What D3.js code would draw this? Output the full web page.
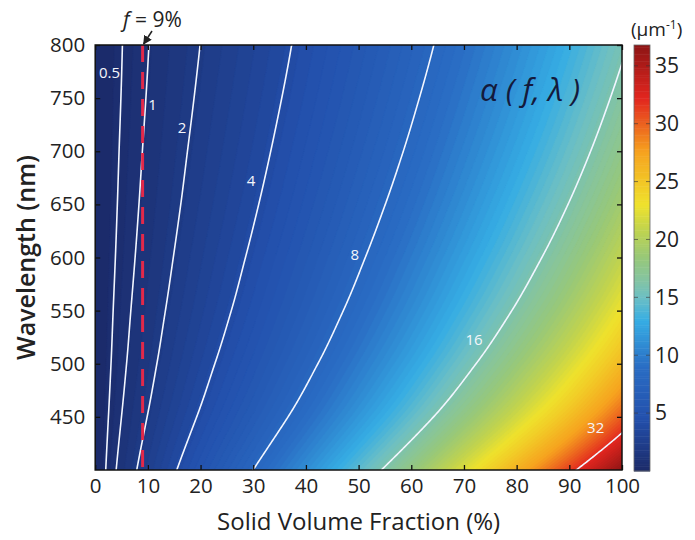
<!DOCTYPE html>
<html><head><meta charset="utf-8">
<script src="https://cdn.jsdelivr.net/npm/d3@7"></script>
<style>
body{margin:0;background:#fff;}
svg{display:block;font-family:"Open Sans",sans-serif;}
</style>
</head><body>
<svg id="chart" width="695" height="540"></svg>
<script>
// ---- data ----
const fractions = [0,10,20,30,40,50,60,70,80,90,100];          // solid volume fraction (%)
const wavelengths = [400,450,500,550,600,650,700,750,800];      // nm
const a400 = [0, 2.55, 5.22, 8.01, 11.08, 14.45, 18.12, 22.19, 26.56, 31.32, 36.8];
const a450 = [0, 2.03, 4.16, 6.39, 8.87, 11.61, 14.62, 17.98, 21.62, 25.62, 30.27];
const a500 = [0, 1.70, 3.50, 5.39, 7.49, 9.83, 12.41, 15.30, 18.46, 21.94, 26.01];
const a550 = [0, 1.49, 3.05, 4.71, 6.56, 8.62, 10.90, 13.47, 16.27, 19.39, 23.04];
const a600 = [0, 1.33, 2.74, 4.23, 5.89, 7.75, 9.81, 12.14, 14.69, 17.53, 20.87];
const a650 = [0, 1.21, 2.49, 3.85, 5.37, 7.07, 8.96, 11.10, 13.45, 16.07, 19.15];
const a700 = [0, 1.12, 2.30, 3.55, 4.96, 6.53, 8.28, 10.27, 12.45, 14.89, 17.77];
const a750 = [0, 1.04, 2.14, 3.31, 4.62, 6.09, 7.73, 9.59, 11.64, 13.93, 16.64];
const a800 = [0, 0.98, 2.01, 3.11, 4.35, 5.73, 7.27, 9.03, 10.96, 13.13, 15.70];
const contourLevels = [0.5, 1, 2, 4, 8, 16, 32];
const labelText = ["0.5", "1", "2", "4", "8", "16", "32"];
const labelFraction = [2.7, 10.9, 16.5, 29.6, 49.3, 71.9, 95.0];
const labelWavelength = [773.6, 743.5, 721.9, 672, 602.4, 522.4, 439.5];
const xTicks = [0,10,20,30,40,50,60,70,80,90,100];
const yTicks = [450,500,550,600,650,700,750,800];
const colorTicks = [5,10,15,20,25,30,35];
const colorMax = 36.8;
const markedFraction = 9;

// colour map (muted jet)
const cmapValues = [0, 4.6, 9, 13, 15, 16.5, 18.5, 21, 23, 27.6, 32.2, 36.8];
const cmapColors = ["#1b2a68","#2350ac","#2a6dc4","#36ade4","#6cbfc4","#84c4a2","#98c878","#c3d44c","#efe22c","#f6a21f","#e2261f","#8e1515"];

// ---- layout ----
const svg = d3.select("#chart");
const L = 95.2, R = 622, T = 45, B = 470;
const x = d3.scaleLinear([0,100],[L,R]);
const y = d3.scaleLinear([400,800],[B,T]);
const color = d3.scaleLinear(cmapValues, cmapColors).interpolate(d3.interpolateRgb).clamp(true);

const rows = [a400,a450,a500,a550,a600,a650,a700,a750,a800];
// smooth (Catmull-Rom) interpolation of the read grid
function cr(p0,p1,p2,p3,t){
  return 0.5*(2*p1 + (-p0+p2)*t + (2*p0-5*p1+4*p2-p3)*t*t + (-p0+3*p1-3*p2+p3)*t*t*t);
}
function pick(arr, k){
  const n = arr.length;
  if (k < 0) return 3*arr[0]-3*arr[1]+arr[2];
  if (k >= n) return 3*arr[n-1]-3*arr[n-2]+arr[n-3];
  return arr[k];
}
function seg(arr, v){
  let i = d3.bisectRight(arr, v) - 1;
  i = Math.max(0, Math.min(arr.length-2, i));
  return [i, (v-arr[i])/(arr[i+1]-arr[i])];
}
function rowAt(row, i, t){
  return cr(pick(row,i-1), pick(row,i), pick(row,i+1), pick(row,i+2), t);
}
function sample(f, wl){
  const [i, tx] = seg(fractions, f);
  const [j, ty] = seg(wavelengths, wl);
  const col = [];
  for (let k=-1;k<=2;k++){
    const jj = j+k;
    if (jj < 0 || jj >= rows.length) col.push(null);
    else col.push(rowAt(rows[jj], i, tx));
  }
  if (col[0] === null) col[0] = 3*col[1]-3*col[2]+col[3];
  if (col[3] === null) col[3] = 3*col[2]-3*col[1]+col[0];
  return Math.max(0, cr(col[0],col[1],col[2],col[3],ty));
}
const nx = 251, ny = 201, df = 100/(nx-1), dl = 400/(ny-1);
const values = new Float64Array(nx*ny);
for (let j=0;j<ny;j++) for (let i=0;i<nx;i++) values[i+j*nx] = sample(i*df, 400+j*dl);

const proj = d3.geoTransform({point(px,py){ this.stream.point(x((px-0.5)*df), y(400+(py-0.5)*dl)); }});
const path = d3.geoPath(proj);

svg.append("clipPath").attr("id","clip").append("rect")
  .attr("x",L).attr("y",T).attr("width",R-L).attr("height",B-T);
const plot = svg.append("g").attr("clip-path","url(#clip)");

const fillThr = d3.range(0, 37, 0.35);
const fills = d3.contours().size([nx,ny]).thresholds(fillThr)(values);
plot.selectAll("path.fill").data(fills).join("path")
  .attr("class","fill").attr("d",path)
  .attr("fill", d=>color(d.value+0.175))
  .attr("stroke", d=>color(d.value+0.175)).attr("stroke-width",0.6);

const lines = d3.contours().size([nx,ny]).thresholds(contourLevels)(values);
plot.selectAll("path.iso").data(lines).join("path")
  .attr("class","iso").attr("d",path)
  .attr("fill","none").attr("stroke","#f2f6ff").attr("stroke-width",1.6);

// dashed f = 9% line
plot.append("line")
  .attr("x1",x(markedFraction)).attr("x2",x(markedFraction))
  .attr("y1",T).attr("y2",B)
  .attr("stroke","#e2294a").attr("stroke-width",3).attr("stroke-dasharray","17,10");

// contour labels
svg.append("g").selectAll("text").data(labelText).join("text")
  .attr("x",(d,i)=>x(labelFraction[i])).attr("y",(d,i)=>y(labelWavelength[i]))
  .attr("dy","0.35em").attr("text-anchor","middle")
  .attr("fill","#f4f6fb").attr("font-size",15).text(d=>d);

// axes
const ax = (g)=>{ g.select(".domain").remove(); g.selectAll(".tick line").attr("stroke","#111").attr("stroke-width",1.3);
  g.selectAll("text").attr("font-size",20.5).attr("fill","#222").attr("font-family","'Open Sans',sans-serif"); };
svg.append("g").attr("transform",`translate(0,${B})`)
  .call(d3.axisBottom(x).tickValues(xTicks).tickSizeInner(-5).tickSizeOuter(0).tickPadding(8)).call(ax);
svg.append("g").attr("transform",`translate(0,${T})`)
  .call(d3.axisTop(x).tickValues(xTicks).tickSizeInner(-5).tickSizeOuter(0).tickFormat("")).call(ax);
svg.append("g").attr("transform",`translate(${L},0)`)
  .call(d3.axisLeft(y).tickValues(yTicks).tickSizeInner(-5).tickSizeOuter(0).tickPadding(10)).call(ax);
svg.append("g").attr("transform",`translate(${R},0)`)
  .call(d3.axisRight(y).tickValues(yTicks).tickSizeInner(-5).tickSizeOuter(0).tickFormat("")).call(ax);
svg.append("rect").attr("x",L).attr("y",T).attr("width",R-L).attr("height",B-T)
  .attr("fill","none").attr("stroke","#111").attr("stroke-width",1.5);

// axis titles
svg.append("text").attr("x",(L+R)/2).attr("y",530).attr("text-anchor","middle")
  .attr("font-size",24).attr("fill","#222").text("Solid Volume Fraction (%)");
svg.append("text").attr("transform",`translate(35,${(T+B)/2}) rotate(-90)`).attr("text-anchor","middle")
  .attr("font-size",25).attr("font-weight",600).attr("fill","#222").text("Wavelength (nm)");

// alpha label
svg.append("text").attr("x",530).attr("y",101).attr("text-anchor","middle")
  .attr("font-size",31).attr("font-style","italic").attr("fill","#141a3c")
  .text("α ( f, λ )");

// f = 9% annotation
const ft = svg.append("text").attr("x",123).attr("y",27).attr("font-size",21).attr("fill","#222");
ft.append("tspan").attr("font-style","italic").text("f");
ft.append("tspan").text(" = 9%");
svg.append("defs").append("marker").attr("id","arr").attr("viewBox","0 0 10 10")
  .attr("refX",9).attr("refY",5).attr("markerWidth",6).attr("markerHeight",6).attr("orient","auto")
  .append("path").attr("d","M0,0L10,5L0,10z").attr("fill","#222");
svg.append("line").attr("x1",152).attr("y1",31).attr("x2",x(markedFraction)+1).attr("y2",T-1)
  .attr("stroke","#222").attr("stroke-width",1.5).attr("marker-end","url(#arr)");

// colour bar
const cbL = 634, cbW = 16;
const cy = d3.scaleLinear([0,colorMax],[471,T]);
const steps = d3.range(0, colorMax, 0.2);
svg.append("g").selectAll("rect").data(steps).join("rect")
  .attr("x",cbL).attr("width",cbW)
  .attr("y",d=>cy(Math.min(d+0.2,colorMax))).attr("height",d=>cy(d)-cy(Math.min(d+0.2,colorMax))+0.5)
  .attr("fill",d=>color(d+0.1));
svg.append("rect").attr("x",cbL).attr("y",T).attr("width",cbW).attr("height",471-T)
  .attr("fill","none").attr("stroke","#666").attr("stroke-width",0.8);
const cbt = svg.append("g");
cbt.selectAll("line.r").data(colorTicks).join("line").attr("class","r")
  .attr("x1",cbL+cbW-4).attr("x2",cbL+cbW).attr("y1",d=>cy(d)).attr("y2",d=>cy(d))
  .attr("stroke","#333").attr("stroke-opacity",0.6);
cbt.selectAll("line.l").data(colorTicks).join("line").attr("class","l")
  .attr("x1",cbL).attr("x2",cbL+4).attr("y1",d=>cy(d)).attr("y2",d=>cy(d))
  .attr("stroke","#333").attr("stroke-opacity",0.6);
cbt.selectAll("text").data(colorTicks).join("text")
  .attr("x",655).attr("y",d=>cy(d)).attr("dy","0.35em")
  .attr("font-size",21).attr("fill","#222").text(d=>d);
const ut = svg.append("text").attr("x",631).attr("y",36).attr("font-size",19).attr("fill","#222");
ut.append("tspan").text("(μm");
ut.append("tspan").attr("font-size",12).attr("dy",-7).text("-1");
ut.append("tspan").attr("dy",7).text(")");
</script>
</body></html>
